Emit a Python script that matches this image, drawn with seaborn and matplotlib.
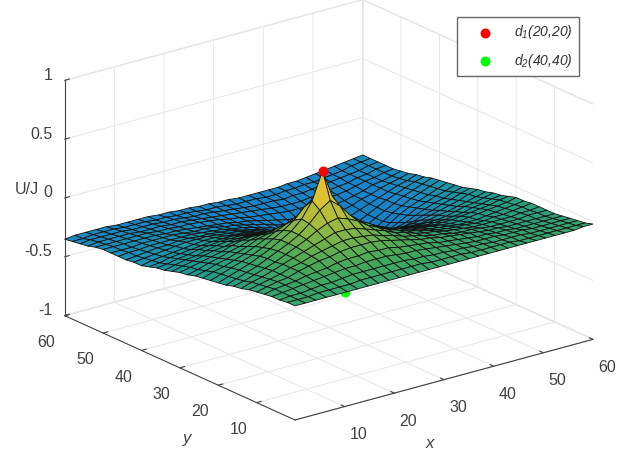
import numpy as np
import matplotlib
matplotlib.use('Agg')
import matplotlib.pyplot as plt
import seaborn as sns
from mpl_toolkits.mplot3d import proj3d

# heights, in hundredths of U/J; one row per y, one column per x
x_grid = [0, 2.1, 4.2, 6.3, 8.4, 10.5, 12.6, 14.7, 16.8, 18.9, 21, 23, 25, 27, 29, 31, 33, 35, 37, 39, 41, 42.9, 44.8, 46.7, 48.6, 50.5, 52.4, 54.3, 56.2, 58.1, 60]
y_grid = [0, 2, 4, 6, 8, 10, 12, 14, 16, 18, 20, 22, 24, 26, 28, 30, 32, 34, 36, 38, 40, 42, 44, 46, 48, 50, 52, 54, 56, 58, 60]
u_rows = [
    [-3, -3, -3, -3, -3, -3, -3, -3, -3, -3, -3, -3, -3, -3, -3, -3, -3, -3, -3, -3, -3, -3, -3, -3, -3, -3, -3, -3, -3, -2, -2],
    [-3, -3, -3, -2, -2, -2, -2, -1, -1, -1, -1, -1, -1, -1, -2, -2, -2, -2, -3, -3, -3, -3, -3, -4, -4, -4, -4, -4, -4, -4, -4],
    [-4, -3, -3, -2, -1, -1, 0, 1, 1, 1, 1, 1, 1, 0, 0, -1, -1, -2, -2, -3, -3, -4, -4, -4, -4, -5, -5, -5, -5, -5, -5],
    [-4, -3, -2, -1, 0, 1, 2, 3, 3, 4, 4, 4, 3, 2, 2, 1, 0, -1, -2, -3, -4, -4, -4, -5, -5, -5, -6, -6, -6, -6, -6],
    [-5, -3, -2, -1, 1, 2, 3, 5, 6, 6, 7, 6, 6, 4, 3, 2, 1, -1, -2, -3, -4, -5, -5, -6, -6, -7, -7, -7, -7, -7, -7],
    [-6, -4, -2, -1, 2, 4, 6, 7, 9, 10, 10, 10, 9, 7, 5, 3, 1, 0, -2, -3, -4, -5, -6, -7, -7, -8, -8, -8, -8, -8, -8],
    [-7, -5, -3, -1, 2, 4, 7, 9, 11, 13, 13, 12, 11, 8, 6, 3, 1, -1, -3, -4, -6, -7, -7, -8, -9, -9, -9, -9, -8, -8, -8],
    [-9, -6, -4, -1, 2, 5, 8, 11, 14, 17, 17, 16, 13, 10, 7, 3, 1, -2, -4, -5, -7, -8, -9, -10, -10, -10, -10, -10, -9, -9, -8],
    [-10, -8, -5, -2, 1, 5, 9, 13, 18, 22, 24, 21, 17, 11, 7, 3, 0, -3, -5, -7, -9, -10, -11, -11, -12, -12, -11, -11, -10, -9, -8],
    [-12, -9, -6, -3, 1, 5, 9, 14, 21, 30, 36, 29, 19, 12, 7, 2, -2, -4, -7, -9, -11, -12, -13, -14, -14, -14, -13, -12, -11, -10, -9],
    [-13, -10, -7, -4, 0, 4, 9, 14, 22, 35, 58, 34, 20, 11, 5, 1, -3, -7, -9, -11, -13, -14, -15, -16, -16, -15, -14, -13, -12, -11, -9],
    [-14, -11, -8, -5, -2, 2, 7, 12, 18, 27, 33, 26, 16, 8, 3, -2, -6, -9, -12, -14, -16, -17, -18, -18, -18, -17, -16, -15, -14, -12, -11],
    [-15, -12, -10, -7, -4, 0, 4, 8, 12, 16, 18, 15, 9, 4, -1, -6, -9, -12, -15, -17, -19, -20, -21, -21, -21, -20, -19, -17, -16, -14, -13],
    [-16, -14, -11, -9, -6, -3, 1, 3, 6, 8, 8, 6, 3, -1, -6, -9, -13, -16, -19, -21, -23, -24, -24, -24, -24, -23, -21, -19, -18, -16, -14],
    [-18, -16, -13, -11, -8, -6, -3, -1, 0, 1, 1, -1, -3, -7, -10, -14, -17, -20, -23, -25, -27, -28, -28, -28, -27, -25, -24, -22, -20, -18, -16],
    [-19, -17, -15, -13, -11, -8, -6, -5, -5, -4, -5, -6, -9, -12, -15, -18, -22, -25, -28, -30, -32, -32, -32, -31, -30, -28, -26, -24, -22, -19, -17],
    [-21, -19, -17, -15, -13, -12, -10, -9, -9, -9, -10, -12, -14, -17, -20, -23, -27, -30, -34, -36, -38, -38, -37, -36, -34, -31, -29, -26, -24, -21, -19],
    [-23, -21, -19, -18, -16, -14, -13, -13, -13, -13, -14, -16, -18, -21, -24, -28, -31, -36, -40, -43, -45, -45, -43, -40, -38, -34, -31, -28, -26, -23, -21],
    [-24, -23, -21, -20, -18, -17, -16, -16, -16, -17, -18, -20, -22, -25, -28, -31, -36, -41, -46, -52, -55, -53, -49, -45, -41, -37, -33, -30, -27, -25, -22],
    [-26, -25, -23, -22, -21, -20, -19, -19, -19, -20, -21, -23, -25, -28, -31, -35, -40, -45, -53, -63, -70, -64, -55, -49, -44, -39, -35, -32, -29, -26, -23],
    [-28, -26, -25, -24, -23, -22, -21, -21, -22, -23, -24, -26, -28, -30, -34, -38, -42, -48, -57, -71, -95, -72, -59, -51, -46, -41, -37, -33, -30, -27, -24],
    [-28, -27, -26, -25, -24, -23, -23, -23, -24, -25, -26, -28, -30, -33, -35, -39, -44, -49, -56, -66, -73, -67, -58, -51, -46, -42, -38, -34, -31, -28, -25],
    [-29, -28, -27, -26, -26, -25, -25, -26, -26, -27, -28, -30, -32, -34, -37, -40, -44, -48, -54, -58, -61, -59, -55, -50, -46, -42, -38, -35, -32, -29, -27],
    [-29, -28, -28, -27, -27, -27, -27, -27, -28, -29, -30, -32, -33, -35, -38, -40, -44, -47, -50, -53, -54, -54, -51, -48, -45, -42, -39, -36, -33, -31, -28],
    [-29, -29, -29, -28, -28, -28, -28, -29, -30, -30, -31, -33, -34, -36, -38, -40, -43, -45, -48, -49, -50, -50, -48, -46, -44, -41, -39, -36, -34, -32, -30],
    [-29, -29, -29, -29, -29, -29, -30, -30, -31, -32, -33, -34, -35, -37, -38, -40, -42, -44, -46, -47, -47, -47, -46, -44, -43, -41, -39, -36, -35, -33, -31],
    [-30, -30, -30, -30, -30, -30, -31, -31, -32, -32, -33, -34, -35, -37, -38, -40, -41, -42, -43, -44, -44, -44, -43, -42, -41, -40, -38, -36, -35, -33, -32],
    [-32, -31, -31, -31, -31, -32, -32, -32, -33, -33, -34, -35, -36, -37, -38, -39, -40, -41, -42, -43, -43, -43, -42, -41, -40, -39, -38, -36, -35, -33, -32],
    [-33, -32, -32, -32, -32, -33, -33, -33, -34, -34, -35, -36, -36, -37, -38, -39, -40, -41, -41, -41, -42, -41, -41, -40, -39, -38, -37, -36, -35, -33, -32],
    [-34, -34, -33, -33, -33, -34, -34, -34, -35, -35, -36, -36, -37, -38, -38, -39, -40, -40, -40, -41, -41, -40, -40, -39, -39, -38, -37, -36, -34, -33, -32],
    [-35, -34, -34, -34, -34, -35, -35, -35, -35, -36, -36, -37, -37, -38, -38, -39, -39, -40, -40, -40, -40, -40, -39, -39, -38, -37, -36, -35, -34, -33, -32],
]

x_ticks = [10, 20, 30, 40, 50, 60]
y_ticks = [10, 20, 30, 40, 50, 60]
z_ticks = [-1, -0.5, 0, 0.5, 1]
z_ticklabels = ['-1', '-0.5', '0', '0.5', '1']

d1_point = (21, 20, 0.58)
d2_point = (41, 40, -0.97)
d1_label = r'$d_1$(20,20)'
d2_label = r'$d_2$(40,40)'

parula = ['#352a87', '#0f5cdd', '#1279c4', '#1b86c8', '#1f9a93', '#45a85a', '#a6bb3c', '#e6c22e', '#f5c92a']

sns.set_style('white')
plt.rcParams['font.family'] = ['Liberation Sans', 'DejaVu Sans']
plt.rcParams['mathtext.fontset'] = 'custom'
plt.rcParams['mathtext.it'] = 'Liberation Sans:italic'
plt.rcParams['mathtext.rm'] = 'Liberation Sans:italic'

W, H = 629, 453
fig = plt.figure(figsize=(W / 100, H / 100), dpi=100)
ax = fig.add_axes([0, 0, 1, 1], projection='3d', proj_type='ortho', computed_zorder=False)
ax.view_init(elev=20.5, azim=-127.7)
ax.set_box_aspect((1, 1, 0.667))
ax.set_xlim(0, 60, view_margin=0)
ax.set_ylim(0, 60, view_margin=0)
ax.set_zlim(-1, 1, view_margin=0)

X, Y = np.meshgrid(x_grid, y_grid)
Z = np.array(u_rows) / 100

cmap = sns.blend_palette(parula, as_cmap=True)
ax.scatter(*d2_point, color='#00ff00', s=38, depthshade=False, zorder=1, label=d2_label)
ax.plot_surface(X, Y, Z, cmap=cmap, vmin=-0.95, vmax=0.62, rstride=1, cstride=1,
                edgecolor='#111111', linewidth=0.6, zorder=2)
ax.scatter(*d1_point, color='#ff0000', s=38, depthshade=False, zorder=3, label=d1_label)

ax.set_xticks(x_ticks)
ax.set_yticks(y_ticks)
ax.set_zticks(z_ticks)
ax.set_zticklabels(z_ticklabels)

for axis in (ax.xaxis, ax.yaxis, ax.zaxis):
    axis.set_pane_color((1, 1, 1, 1))
    axis.pane.set_edgecolor('#e6e6e6')
    axis.line.set_color('#404040')
    axis.line.set_linewidth(0.8)
    axis._axinfo['grid']['color'] = '#e6e6e6'
    axis._axinfo['grid']['linewidth'] = 0.7
    axis._axinfo['tick']['inward_factor'] = 0
    axis._axinfo['tick']['outward_factor'] = 0.2
    axis._axinfo['tick']['linewidth'] = {True: 0.8, False: 0.8}
    axis._axinfo['tick']['color'] = '#404040'
ax.tick_params(axis='both', labelsize=11.5, labelcolor='#404040', colors='#404040', pad=5)
ax.tick_params(axis='z', pad=-3)
for t in ax.get_zticklabels():
    t.set_ha('right')
    t.set_va('baseline')


def to_px(x, y, z):
    px, py, _ = proj3d.proj_transform(x, y, z, ax.get_proj())
    return ax.transData.transform((px, py))


# fit the box on the canvas: front floor corner at (295, 420), x axis 298 px wide
side = float(W)
left, bottom = 0.0, 0.0
for _ in range(3):
    ax.set_position([left / W, bottom / H, side / W, side / H])
    ax.apply_aspect()
    fig.canvas.draw()
    front = to_px(0, 0, -1)
    right = to_px(60, 0, -1)
    ratio = 298 / (right[0] - front[0])
    side *= ratio
    left += 295 - front[0]
    bottom += (H - 420) - front[1]
    left -= (ratio - 1) * (front[0] - left)
    bottom -= (ratio - 1) * (front[1] - bottom)
ax.set_position([left / W, bottom / H, side / W, side / H])

handles, labels = ax.get_legend_handles_labels()
fig.legend(handles[::-1], labels[::-1], loc='upper left', bbox_to_anchor=(457 / W, 1 - 17 / H),
           bbox_transform=fig.transFigure, borderaxespad=0, fancybox=False, framealpha=1,
           edgecolor='#666666', labelcolor='#333333', scatterpoints=1, labelspacing=0.75,
           handlelength=3.2, handletextpad=0.45, borderpad=0.45, prop={'style': 'italic', 'size': 10})

fig.text(27 / W, 1 - 190 / H, 'U/J', fontsize=11.5, color='#404040', ha='center', va='center')
fig.text(187 / W, 1 - 438 / H, 'y', fontsize=12, style='italic', color='#404040', ha='center', va='center')
fig.text(430 / W, 1 - 443 / H, 'x', fontsize=12, style='italic', color='#404040', ha='center', va='center')

fig.savefig('out.png', dpi=100)
